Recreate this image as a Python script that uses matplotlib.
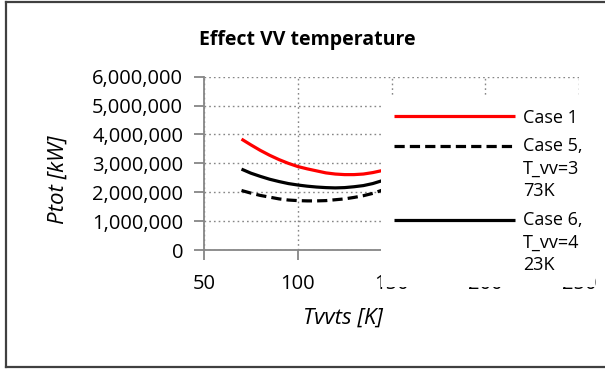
import numpy as np
import matplotlib
matplotlib.use('Agg')
import matplotlib.pyplot as plt
from matplotlib.legend_handler import HandlerLine2D
from matplotlib.lines import Line2D
from matplotlib.ticker import FuncFormatter

# data (Ptot in kW)
t_vvts = [70, 75, 80, 85, 90, 95, 100, 105, 110, 115, 120, 125, 130, 135, 140, 145, 150]
case1 = [3840000, 3640000, 3450000, 3280000, 3130000, 3000000, 2890000, 2810000, 2740000,
         2670000, 2630000, 2610000, 2610000, 2630000, 2680000, 2750000, 2830000]
case5 = [2060000, 1970000, 1890000, 1830000, 1770000, 1730000, 1710000, 1700000, 1700000,
         1710000, 1740000, 1770000, 1820000, 1880000, 1960000, 2070000, 2190000]
case6 = [2800000, 2660000, 2550000, 2450000, 2370000, 2300000, 2250000, 2210000, 2180000,
         2160000, 2150000, 2160000, 2190000, 2230000, 2300000, 2400000, 2510000]
series_labels = ['Case 1', 'Case 5,\nT_vv=3\n73K', 'Case 6,\nT_vv=4\n23K']
x_ticks = [50, 100, 150, 200, 250]
y_ticks = [0, 1000000, 2000000, 3000000, 4000000, 5000000, 6000000]

plt.rcParams['font.family'] = ['Open Sans', 'DejaVu Sans']
FS = 14.5
LAB_FS = 16
LEG_FS = 13
LSP = 1.32
GRAY = '#868686'


class TopLineHandler(HandlerLine2D):
    # put the legend line next to the first text row, like Excel does
    def __init__(self, shift=0.0, **kw):
        super().__init__(**kw)
        self.shift = shift

    def create_artists(self, legend, orig_handle, xdescent, ydescent,
                       width, height, fontsize, trans):
        artists = super().create_artists(legend, orig_handle, xdescent, ydescent,
                                         width, height, fontsize, trans)
        for a in artists:
            a.set_ydata(np.asarray(a.get_ydata()) + self.shift * fontsize)
        return artists


fig = plt.figure(figsize=(6.05, 3.69), dpi=100)
ax = fig.add_axes([204 / 605, 1 - 250 / 369, 375 / 605, 173.3 / 369])

l1, = ax.plot(t_vvts, case1, color='#FF0000', lw=2.3, solid_capstyle='butt')
l5, = ax.plot(t_vvts, case5, color='black', lw=2.3, dashes=(3.2, 1.6))
l6, = ax.plot(t_vvts, case6, color='black', lw=2.3, solid_capstyle='butt')

ax.set_xlim(50, 250)
ax.set_ylim(0, 6000000)
ax.set_xticks(x_ticks)
ax.set_yticks(y_ticks)
ax.yaxis.set_major_formatter(FuncFormatter(lambda v, p: f'{int(v):,}'))
ax.grid(True, color=GRAY, lw=1.0, linestyle=(0, (1.2, 2.2)))
ax.set_axisbelow(True)

for s in ['top', 'right']:
    ax.spines[s].set_visible(False)
for s in ['left', 'bottom']:
    ax.spines[s].set_color(GRAY)
    ax.spines[s].set_linewidth(1.3)
ax.tick_params(direction='out', length=7.5, width=1.3, color=GRAY,
               labelsize=FS, labelcolor='black')
ax.tick_params(axis='x', pad=10)
ax.tick_params(axis='y', pad=7.5)

fig.text(307 / 605, 1 - 40 / 369, 'Effect VV temperature', fontsize=14,
         fontweight='bold', ha='center', va='center')

ax.set_ylabel('Ptot [kW]', fontsize=LAB_FS, style='italic')
ax.yaxis.set_label_coords(58 / 605, 1 - 180 / 369, transform=fig.transFigure)
ax.set_xlabel('Tvvts [K]', fontsize=LAB_FS, style='italic')
ax.xaxis.set_label_coords(343 / 605, 1 - 318 / 369, transform=fig.transFigure)
ax.xaxis.label.set_va('center')
ax.yaxis.label.set_va('center')

leg = fig.legend([l1, l5, l6], series_labels, loc='upper left',
                 bbox_to_anchor=(381 / 605, 1 - 96 / 369),
                 fontsize=LEG_FS, frameon=True, fancybox=False, framealpha=1,
                 facecolor='white', edgecolor='none', borderpad=0.7,
                 borderaxespad=0, handlelength=6.7, handletextpad=0.45,
                 labelspacing=0.6,
                 handler_map={l1: TopLineHandler(0.0),
                              l5: TopLineHandler(LSP),
                              l6: TopLineHandler(LSP)})
for t in leg.get_texts():
    t.set_linespacing(LSP)

# outer chart border (left, top, bottom only visible in the crop)
for xs, ys in [([6 / 605, 6 / 605], [1 - 2 / 369, 1 - 367 / 369]),
               ([6 / 605, 1.0], [1 - 2 / 369, 1 - 2 / 369]),
               ([6 / 605, 1.0], [1 - 367 / 369, 1 - 367 / 369])]:
    fig.add_artist(Line2D(xs, ys, transform=fig.transFigure, color='#404040', lw=1.6))

fig.savefig('out.png', dpi=100)
